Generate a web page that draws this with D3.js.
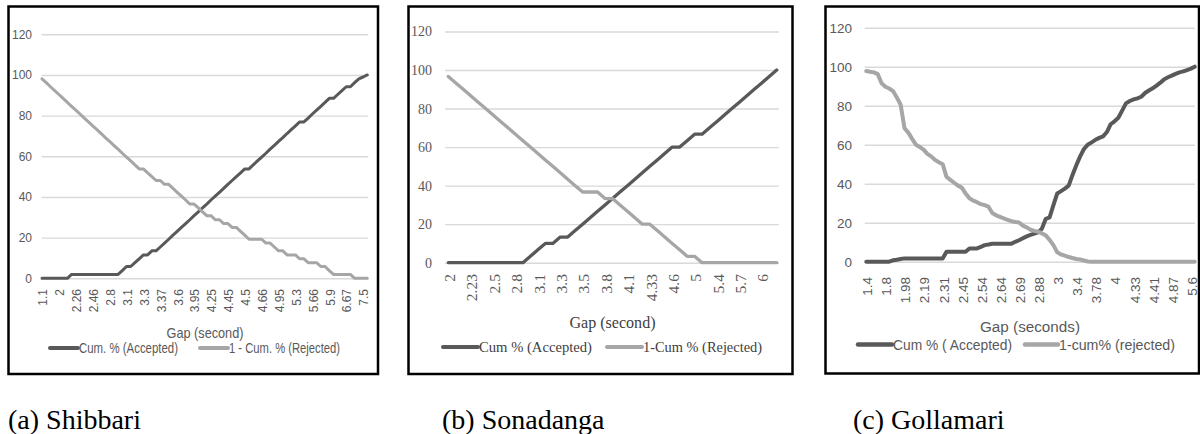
<!DOCTYPE html>
<html>
<head>
<meta charset="utf-8">
<script src="https://cdn.jsdelivr.net/npm/d3@7"></script>
<style>
  body { margin: 0; background: #fff; }
  svg { display: block; }
</style>
</head>
<body>
<div id="chart"></div>
<script>

//--------------------------------------------------------------------------
//
// data
//

// (a) Shibbari - 78 gap classes, every 4th one labelled
var ticksA = ["1.1", "2", "2.26", "2.46", "2.8", "3.1", "3.3", "3.37", "3.6", "3.95",
              "4.25", "4.45", "4.5", "4.66", "4.95", "5.3", "5.66", "5.9", "6.67", "7.5"];
var acceptedA = [0, 0, 0, 0, 0, 0, 0,
    1.9, 1.9, 1.9, 1.9, 1.9, 1.9, 1.9, 1.9, 1.9, 1.9, 1.9, 1.9,
    3.8, 5.8, 5.8, 7.7, 9.6, 11.5, 11.5, 13.5, 13.5,
    15.4, 17.3, 19.2, 21.2, 23.1, 25.0, 26.9, 28.8, 30.8, 32.7, 34.6, 36.5, 38.5, 40.4,
    42.3, 44.2, 46.2, 48.1, 50.0, 51.9, 53.8, 53.8,
    55.8, 57.7, 59.6, 61.5, 63.5, 65.4, 67.3, 69.2, 71.2, 73.1, 75.0, 76.9, 76.9,
    78.8, 80.8, 82.7, 84.6, 86.5, 88.5, 88.5, 90.4, 92.3, 94.2, 94.2, 96.2, 98.1, 99.0, 100];
var rejectedA = [98.1, 96.2, 94.2, 92.3, 90.4, 88.5, 86.5, 84.6, 82.7, 80.8, 78.8, 76.9,
    75.0, 73.1, 71.2, 69.2, 67.3, 65.4, 63.5, 61.5, 59.6, 57.7, 55.8, 53.8, 53.8,
    51.9, 50.0, 48.1, 48.1, 46.2, 46.2, 44.2, 42.3, 40.4, 38.5, 36.5, 36.5,
    34.6, 32.7, 30.8, 30.8, 28.8, 28.8, 26.9, 26.9, 25.0, 25.0, 23.1, 21.2,
    19.2, 19.2, 19.2, 19.2, 17.3, 17.3, 15.4, 13.5, 13.5, 11.5, 11.5, 11.5,
    9.6, 9.6, 7.7, 7.7, 7.7, 5.8, 5.8, 3.8, 1.9, 1.9, 1.9, 1.9, 1.9, 0, 0, 0, 0];

// (b) Sonadanga - 45 gap classes, every 3rd one labelled
var ticksB = ["2", "2.23", "2.5", "2.8", "3.1", "3.3", "3.5", "3.8", "4.1", "4.33",
              "4.6", "5", "5.4", "5.7", "6"];
var acceptedB = [0, 0, 0, 0, 0, 0, 0, 0, 0, 0, 0,
    3.3, 6.7, 10, 10, 13.3, 13.3, 16.7, 20, 23.3, 26.7, 30, 33.3, 36.7, 40, 43.3,
    46.7, 50, 53.3, 56.7, 60, 60, 63.3, 66.7, 66.7, 70, 73.3, 76.7, 80, 83.3,
    86.7, 90, 93.3, 96.7, 100];
var rejectedB = [96.7, 93.3, 90, 86.7, 83.3, 80, 76.7, 73.3, 70, 66.7, 63.3, 60,
    56.7, 53.3, 50, 46.7, 43.3, 40, 36.7, 36.7, 36.7, 33.3, 33.3, 30, 26.7, 23.3,
    20, 20, 16.7, 13.3, 10, 6.7, 3.3, 3.3,
    0, 0, 0, 0, 0, 0, 0, 0, 0, 0, 0];

// (c) Gollamari - 87 gap classes, every 5th one labelled
var ticksC = ["1.4", "1.8", "1.98", "2.19", "2.31", "2.45", "2.54", "2.64", "2.69",
              "2.88", "3", "3.4", "3.78", "4", "4.33", "4.41", "4.87", "5.6"];
var acceptedC = [0, 0, 0, 0, 0, 0, 0, 0.7, 1.0, 1.4, 1.7,
    1.7, 1.7, 1.7, 1.7, 1.7, 1.7, 1.7, 1.7, 1.7, 1.7,
    5.1, 5.1, 5.1, 5.1, 5.1, 5.1, 6.8, 6.8, 6.8, 7.6, 8.5, 8.8,
    9.2, 9.2, 9.2, 9.2, 9.2, 9.2,
    10.2, 11.0, 12.0, 13.0, 13.7, 14.4, 15.0, 17.0, 22.0, 22.7, 29.0, 35.0,
    36.2, 37.5, 39.0, 44.5, 49.5, 54.0, 57.8, 60.0, 61.2, 62.5, 63.5, 64.3,
    66.5, 70.5, 72.0, 73.8, 77.5, 81.2, 82.4, 83.2, 83.8, 84.6, 86.5, 87.8,
    88.9, 90.3, 91.8, 93.5, 94.6, 95.4, 96.3, 97.1, 97.6, 98.3, 99.0, 100];
var rejectedC = [97.8, 97.4, 97.1, 96.2, 91.5, 89.7, 88.8, 87.5, 84.2, 80.5,
    68.5, 66.2, 63, 60, 58.8, 57.5, 55.3, 54, 52.2, 51,
    50, 43.5, 42, 40.5, 39, 38, 35, 32.5, 31.3, 30.5,
    29.5, 29, 28.2, 25, 23.8, 23, 22.2, 21.5, 20.8, 20.4,
    20.1, 18.5, 17.6, 16.4, 15.8, 15.4, 14.5, 13.5, 11.2, 8.5,
    4.8, 3.7, 3.1, 2.4, 1.9, 1.4, 1.1, 0.6, 0.1,
    0, 0, 0, 0, 0, 0, 0, 0, 0, 0, 0, 0, 0, 0, 0, 0, 0, 0, 0, 0, 0, 0, 0, 0, 0, 0, 0, 0];

var yTicks = [0, 20, 40, 60, 80, 100, 120];
var axisTitles = ["Gap (second)", "Gap (second)", "Gap (seconds)"];
var legendAccepted = ["Cum. % (Accepted)", "Cum % (Accepted)", "Cum % ( Accepted)"];
var legendRejected = ["1 - Cum. % (Rejected)", "1-Cum % (Rejected)", "1-cum% (rejected)"];
var captions = ["(a) Shibbari", "(b) Sonadanga", "(c) Gollamari"];

//--------------------------------------------------------------------------
//
// chart
//

var darkColor = "#595959",
    lightColor = "#a6a6a6",
    gridColor = "#d9d9d9";

var sans = "'Liberation Sans', Arial, sans-serif",
    serif = "'Liberation Serif', 'Times New Roman', serif";

// one entry per panel: geometry and fonts only
// (title / legend widths are pinned, the original used a narrow font)
var panels = [
    {ticks: ticksA, acc: acceptedA, rej: rejectedA, every: 4,
     box: [8.5, 6.5, 378, 374], x: [42, 367.3], grid: [41.7, 368.3], y: [278.3, 34.3],
     yLabelX: 32, yFont: sans, ySize: 12, xTop: 289, xFont: sans, xSize: 12,
     titleX: 205, titleY: 338, titleFont: sans, titleSize: 15, titleW: 77, titleColor: "#595959",
     legY: 348, legDark: [50, 78], legLight: [200, 228], legFont: sans, legSize: 15,
     legW1: 99, legW2: 111, legColor: "#595959", lineW: 3, legW: 4, captionX: 8},
    {ticks: ticksB, acc: acceptedB, rej: rejectedB, every: 3,
     box: [408.5, 6.5, 792.5, 374], x: [448.3, 776.7], grid: [445, 779], y: [262.7, 31.5],
     yLabelX: 432, yFont: serif, ySize: 14, xTop: 274, xFont: serif, xSize: 15.5,
     titleX: 612.5, titleY: 328, titleFont: serif, titleSize: 17, titleW: 86, titleColor: "#404040",
     legY: 347, legDark: [443, 478], legLight: [607, 642], legFont: serif, legSize: 15.5,
     legW1: 113, legW2: 119, legColor: "#404040", lineW: 3.3, legW: 4, captionX: 442},
    {ticks: ticksC, acc: acceptedC, rej: rejectedC, every: 5,
     box: [825.5, 6.5, 1199, 373.5], x: [866.3, 1194.7], grid: [864.7, 1195], y: [261.7, 27.7],
     yLabelX: 852, yFont: sans, ySize: 13.5, xTop: 277, xFont: sans, xSize: 13.5,
     titleX: 1030, titleY: 332, titleFont: sans, titleSize: 15.5, titleW: 100, titleColor: "#595959",
     legY: 344.5, legDark: [858, 892], legLight: [1025, 1058], legFont: sans, legSize: 14.5,
     legW1: 119, legW2: 116, legColor: "#595959", lineW: 4, legW: 4.5, captionX: 853}
];

var svg = d3.select("#chart").append("svg")
    .attr("width", 1200)
    .attr("height", 434);

panels.forEach(function (p, k) {

    var n = p.acc.length;

    var x = d3.scalePoint()
        .domain(d3.range(n))
        .range(p.x);

    var y = d3.scaleLinear()
        .domain([0, 120])
        .range(p.y);

    var g = svg.append("g").attr("class", "panel");

    // frame
    g.append("rect")
        .attr("x", p.box[0])
        .attr("y", p.box[1])
        .attr("width", p.box[2] - p.box[0])
        .attr("height", p.box[3] - p.box[1])
        .attr("fill", "#fff")
        .attr("stroke", "#000")
        .attr("stroke-width", 2.5);

    // gridlines
    var gridAxis = d3.axisLeft(y)
        .tickValues(yTicks)
        .tickSize(-(p.grid[1] - p.grid[0]))
        .tickFormat("");
    var grid = g.append("g")
        .attr("transform", "translate(" + p.grid[0] + ",0)")
        .call(gridAxis);
    grid.select(".domain").remove();
    grid.selectAll("line")
        .attr("stroke", gridColor)
        .attr("stroke-width", 1.4);

    // y labels
    var yAxis = g.append("g")
        .attr("transform", "translate(" + p.yLabelX + ",0)")
        .call(d3.axisLeft(y).tickValues(yTicks).tickSize(0).tickPadding(0));
    yAxis.select(".domain").remove();
    yAxis.selectAll("text")
        .attr("fill", "#595959")
        .style("font-family", p.yFont)
        .style("font-size", p.ySize + "px");

    // x labels, rotated
    var tickIdx = d3.range(0, n, p.every).slice(0, p.ticks.length);
    var xAxis = g.append("g")
        .attr("transform", "translate(0," + p.xTop + ")")
        .call(d3.axisBottom(x)
            .tickValues(tickIdx)
            .tickSize(0)
            .tickPadding(0)
            .tickFormat(function (d) { return p.ticks[d / p.every]; }));
    xAxis.select(".domain").remove();
    xAxis.selectAll("text")
        .attr("x", 0)
        .attr("y", 0)
        .attr("dy", "0.4em")
        .attr("transform", "rotate(-90)")
        .style("text-anchor", "end")
        .attr("fill", "#595959")
        .style("font-family", p.xFont)
        .style("font-size", p.xSize + "px");

    // series
    var line = d3.line()
        .x(function (d, i) { return x(i); })
        .y(function (d) { return y(d); });

    [[p.acc, darkColor], [p.rej, lightColor]].forEach(function (s) {
        g.append("path")
            .datum(s[0])
            .attr("d", line)
            .attr("fill", "none")
            .attr("stroke", s[1])
            .attr("stroke-width", p.lineW)
            .attr("stroke-linejoin", "round")
            .attr("stroke-linecap", "round");
    });

    // axis title
    g.append("text")
        .attr("x", p.titleX - p.titleW / 2)
        .attr("y", p.titleY)
        .attr("textLength", p.titleW)
        .attr("lengthAdjust", "spacingAndGlyphs")
        .attr("fill", p.titleColor)
        .style("font-family", p.titleFont)
        .style("font-size", p.titleSize + "px")
        .text(axisTitles[k]);

    // legend
    var legend = [[p.legDark, darkColor, legendAccepted[k], p.legW1],
                  [p.legLight, lightColor, legendRejected[k], p.legW2]];
    legend.forEach(function (l) {
        g.append("line")
            .attr("x1", l[0][0])
            .attr("x2", l[0][1])
            .attr("y1", p.legY)
            .attr("y2", p.legY)
            .attr("stroke", l[1])
            .attr("stroke-width", p.legW)
            .attr("stroke-linecap", "round");
        g.append("text")
            .attr("x", l[0][1] + 1)
            .attr("y", p.legY)
            .attr("dy", "0.35em")
            .attr("textLength", l[3])
            .attr("lengthAdjust", "spacingAndGlyphs")
            .attr("fill", p.legColor)
            .style("font-family", p.legFont)
            .style("font-size", p.legSize + "px")
            .text(l[2]);
    });

    // caption under the frame
    svg.append("text")
        .attr("x", p.captionX)
        .attr("y", 429)
        .attr("fill", "#000")
        .style("font-family", serif)
        .style("font-size", "28px")
        .text(captions[k]);
});

</script>
</body>
</html>
